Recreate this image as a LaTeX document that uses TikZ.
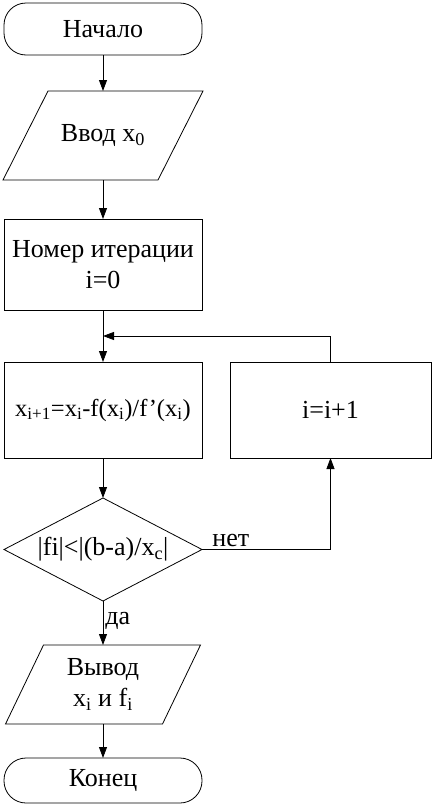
\documentclass[tikz,border=0pt]{standalone}
\usepackage{fontspec}
\setmainfont{Liberation Serif}
\usetikzlibrary{arrows.meta,positioning,shapes.geometric,calc}

\begin{document}
\begin{tikzpicture}[x=1pt,y=1pt,>={Triangle[length=11pt,width=8pt]},line width=0.8pt,
 font=\fontsize{26}{31}\selectfont,
 term/.style={draw,rounded corners=22pt,minimum width=198pt,align=center,outer sep=0pt},
 io/.style={align=center,inner sep=0pt,outer sep=0pt},
 proc/.style={draw,minimum width=198pt,minimum height=96pt,align=center,outer sep=0pt},
 decision/.style={draw,diamond,aspect=1.9,minimum width=198pt,minimum height=103pt,inner sep=1pt,outer sep=0pt},
 lbl/.style={inner sep=2pt}]
\useasboundingbox (0,0) rectangle (433,-806);
\node[term,minimum height=52pt] (start) at (103,-29) {Начало};
\node[io,minimum width=155pt,minimum height=89pt,below=36pt of start] (input) {Ввод x\textsubscript{0}};
\node[proc,minimum height=91pt,below=39pt of input] (init) {Номер итерации\\i=0};
\node[proc,below=52pt of init,font=\fontsize{24.5}{29}\selectfont] (calc) {x\textsubscript{i+1}=x\textsubscript{i}-f(x\textsubscript{i})/f’(x\textsubscript{i})};
\node[proc,minimum width=201pt,right=28pt of calc] (inc) {i=i+1};
\node[decision,below=40pt of calc] (cond) {|fi|<|(b-a)/x\textsubscript{c}|};
\node[io,minimum width=157pt,minimum height=79pt,below=44pt of cond] (output) {Вывод\\x\textsubscript{i} и f\textsubscript{i}};
\node[term,minimum height=45pt,below=34pt of output] (stop) {Конец};
% parallelograms
\draw ([xshift=22.5pt]input.north west) -- ([xshift=22.5pt]input.north east)
 -- ([xshift=-22.5pt]input.south east) -- ([xshift=-22.5pt]input.south west) -- cycle;
\draw ([xshift=19pt]output.north west) -- ([xshift=19pt]output.north east)
 -- ([xshift=-19pt]output.south east) -- ([xshift=-19pt]output.south west) -- cycle;
\coordinate (join) at ($(init.south)!0.5!(calc.north)$);
\draw[->] (start)--(input);
\draw[->] (input)--(init);
\draw[->] (init)--(calc);
\draw[->] (inc.north) |- (join);
\draw[->] (calc)--(cond);
\draw[->] (cond.east) node[lbl,above right=0pt and 8pt] {нет} -| (inc.south);
\draw[->] (cond.south) -- node[lbl,right,pos=0.45] {да} (output);
\draw[->] (output)--(stop);
\end{tikzpicture}
\end{document}
